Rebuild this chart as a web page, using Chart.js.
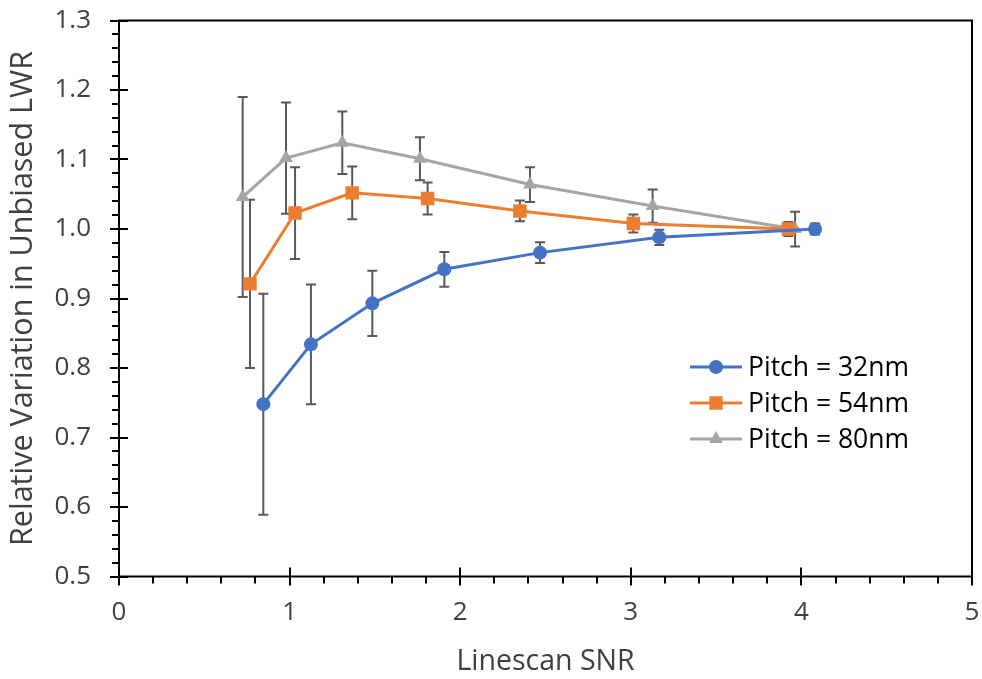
<!DOCTYPE html>
<html>
<head>
<meta charset="utf-8">
<script src="https://cdn.jsdelivr.net/npm/chart.js@4.4.0/dist/chart.umd.min.js"></script>
<style>
html,body{margin:0;padding:0;background:#fff;}
#wrap{width:982px;height:679px;position:relative;}
</style>
</head>
<body>
<div id="wrap"><canvas id="c" width="982" height="679"></canvas></div>
<script>
// ---- data ----
const seriesLabels = ['Pitch = 32nm', 'Pitch = 54nm', 'Pitch = 80nm'];
const snr32 = [0.846, 1.125, 1.485, 1.907, 2.468, 3.167, 4.08];
const lwr32 = [0.748, 0.834, 0.893, 0.942, 0.966, 0.988, 1.000];
const err32 = [0.159, 0.086, 0.047, 0.025, 0.015, 0.011, 0.008];
const snr54 = [0.768, 1.032, 1.367, 1.809, 2.350, 3.015, 3.923];
const lwr54 = [0.921, 1.023, 1.052, 1.044, 1.026, 1.008, 1.000];
const err54 = [0.121, 0.066, 0.038, 0.023, 0.015, 0.013, 0.010];
const snr80 = [0.725, 0.979, 1.309, 1.764, 2.409, 3.128, 3.963];
const lwr80 = [1.046, 1.102, 1.124, 1.101, 1.064, 1.033, 1.000];
const err80 = [0.144, 0.080, 0.045, 0.031, 0.025, 0.024, 0.025];
const xTicks = [0, 1, 2, 3, 4, 5];
const yTicks = [0.5, 0.6, 0.7, 0.8, 0.9, 1.0, 1.1, 1.2, 1.3];

const colors = ['#4472C4', '#ED7D31', '#A5A5A5'];
const styles = ['circle', 'rect', 'triangle'];
const radii = [7, 9.5, 8];
const FONT = "'Open Sans', sans-serif";
const TXT = '#404040';

function pts(xs, ys){ return xs.map((x,i)=>({x:x, y:ys[i]})); }
const allX = [snr32, snr54, snr80], allY = [lwr32, lwr54, lwr80], allE = [err32, err54, err80];

const datasets = seriesLabels.map((lab, k)=>({
  label: lab,
  data: pts(allX[k], allY[k]),
  borderColor: colors[k],
  backgroundColor: colors[k],
  borderWidth: 3,
  pointStyle: styles[k],
  pointRadius: radii[k],
  pointHoverRadius: radii[k],
  pointBorderWidth: 0,
  showLine: true,
  tension: 0,
  errors: allE[k]
}));

const errorBars = {
  id: 'errorBars',
  beforeDatasetsDraw(chart){
    const ctx = chart.ctx, xs = chart.scales.x, ys = chart.scales.y;
    ctx.save();
    ctx.strokeStyle = '#595959';
    ctx.lineWidth = 2;
    chart.data.datasets.forEach(ds=>{
      ds.data.forEach((p,i)=>{
        const e = ds.errors[i];
        const px = xs.getPixelForValue(p.x);
        const y1 = ys.getPixelForValue(p.y + e), y2 = ys.getPixelForValue(p.y - e);
        ctx.beginPath();
        ctx.moveTo(px, y1); ctx.lineTo(px, y2);
        ctx.moveTo(px-5, y1); ctx.lineTo(px+5, y1);
        ctx.moveTo(px-5, y2); ctx.lineTo(px+5, y2);
        ctx.stroke();
      });
    });
    ctx.restore();
  }
};

const frameTicks = {
  id: 'frameTicks',
  afterDraw(chart){
    const ctx = chart.ctx, a = chart.chartArea, xs = chart.scales.x, ys = chart.scales.y;
    ctx.save();
    ctx.strokeStyle = '#000';
    ctx.lineWidth = 2;
    ctx.beginPath();
    ctx.rect(a.left, a.top, a.right - a.left, a.bottom - a.top);
    ctx.stroke();
    ctx.beginPath();
    for (let i = 0; i <= 40; i++) {
      const v = 0.5 + i * 0.02;
      const py = Math.round(ys.getPixelForValue(v));
      if (i % 5 === 0) { ctx.moveTo(a.left - 9, py); ctx.lineTo(a.left + 9, py); }
      else { ctx.moveTo(a.left - 7, py); ctx.lineTo(a.left, py); }
    }
    for (let i = 0; i <= 25; i++) {
      const v = i * 0.2;
      const px = Math.round(xs.getPixelForValue(v));
      if (i % 5 === 0) { ctx.moveTo(px, a.bottom - 9); ctx.lineTo(px, a.bottom + 9); }
      else { ctx.moveTo(px, a.bottom); ctx.lineTo(px, a.bottom + 7); }
    }
    ctx.stroke();
    ctx.restore();
  }
};

const insideLegend = {
  id: 'insideLegend',
  afterDraw(chart){
    const ctx = chart.ctx;
    const x0 = 690, x1 = 742, tx = 748, y0 = 367, dy = 36;
    ctx.save();
    chart.data.datasets.forEach((ds, k)=>{
      const y = y0 + k * dy;
      const cx = (x0 + x1) / 2;
      ctx.strokeStyle = ds.borderColor;
      ctx.lineWidth = 3;
      ctx.beginPath(); ctx.moveTo(x0, y); ctx.lineTo(x1, y); ctx.stroke();
      ctx.fillStyle = ds.backgroundColor;
      const r = ds.pointRadius;
      ctx.beginPath();
      if (ds.pointStyle === 'circle') { ctx.arc(cx, y, r, 0, Math.PI*2); }
      else if (ds.pointStyle === 'rect') { const s = r*Math.SQRT1_2; ctx.rect(cx - s, y - s, 2*s, 2*s); }
      else { ctx.moveTo(cx, y - r); ctx.lineTo(cx + r*0.866, y + r*0.5); ctx.lineTo(cx - r*0.866, y + r*0.5); ctx.closePath(); }
      ctx.fill();
      ctx.fillStyle = '#000';
      ctx.font = "26.5px " + FONT;
      ctx.textBaseline = 'middle';
      ctx.textAlign = 'left';
      ctx.fillText(ds.label, tx, y + 1);
    });
    ctx.restore();
  }
};

new Chart(document.getElementById('c'), {
  type: 'line',
  data: { datasets },
  plugins: [errorBars, frameTicks, insideLegend],
  options: {
    responsive: false,
    animation: false,
    layout: { padding: { top: 20.5, right: 10, left: 0, bottom: 0 } },
    plugins: { legend: { display: false }, tooltip: { enabled: false } },
    scales: {
      x: {
        type: 'linear', min: 0, max: 5,
        afterBuildTicks(s){ s.ticks = xTicks.map(v=>({value:v})); },
        ticks: { padding: 20, color: TXT, font: { family: FONT, size: 26 }, callback: v => String(v) },
        grid: { display: false, drawTicks: false },
        border: { display: false },
        title: { display: true, text: 'Linescan SNR', color: TXT, font: { family: FONT, size: 28.5 }, padding: { top: 0, bottom: 0 } },
        afterFit(s){ s.height = 102.5; s.paddingLeft = 0; s.paddingRight = 0; }
      },
      y: {
        type: 'linear', min: 0.5, max: 1.3,
        afterBuildTicks(s){ s.ticks = yTicks.map(v=>({value:v})); },
        ticks: { padding: 28, color: TXT, font: { family: FONT, size: 26 }, callback: v => v.toFixed(1) },
        grid: { display: false, drawTicks: false },
        border: { display: false },
        title: { display: true, text: 'Relative Variation in Unbiased LWR', color: TXT, font: { family: FONT, size: 30.5 }, padding: { top: 5, bottom: 0 } },
        afterFit(s){ s.width = 119; s.paddingTop = 0; s.paddingBottom = 0; }
      }
    }
  }
});
</script>
</body>
</html>
